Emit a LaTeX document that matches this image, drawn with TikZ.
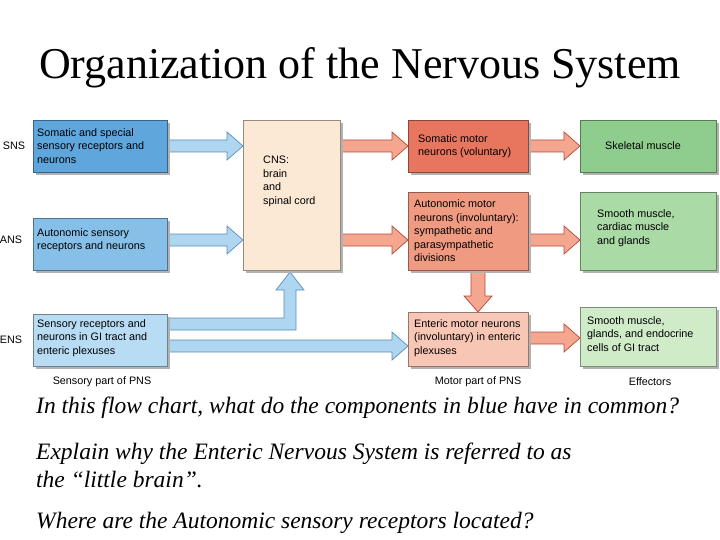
\documentclass[tikz,border=0pt]{standalone}
\usepackage{fontspec}
\setmainfont{Liberation Serif}
\newfontfamily\dsans{Liberation Sans}
\begin{document}
\begin{tikzpicture}[x=1pt,y=-1pt,
  sh/.style={fill=black!30},
  lbl/.style={font=\dsans\fontsize{10.8}{13.5}\selectfont,align=left,inner sep=1pt},
  barr/.style={fill=barf,draw=bard,line width=0.7pt},
  rarr/.style={fill=rarf,draw=rard,line width=0.7pt}]
\useasboundingbox (0,0) rectangle (720,540);
\definecolor{b1}{HTML}{5FA6DD}\definecolor{b2}{HTML}{86BFE8}\definecolor{b3}{HTML}{B8DCF4}
\definecolor{r1}{HTML}{E8765F}\definecolor{r2}{HTML}{F09A82}\definecolor{r3}{HTML}{F8C6B5}
\definecolor{g1}{HTML}{8FCD8E}\definecolor{g2}{HTML}{AADAA5}\definecolor{g3}{HTML}{CFEBC8}
\definecolor{cns}{HTML}{FBE8D5}
\definecolor{barf}{HTML}{AED6F1}\definecolor{bard}{HTML}{5B8DB8}
\definecolor{rarf}{HTML}{F4A68F}\definecolor{rard}{HTML}{B84A3A}
\newcommand{\bx}[6]{% name x1 y1 x2 y2 color
  \fill[sh] (#2+3,#3+3) rectangle (#4+3,#5+3);
  \draw[fill=#6,draw=#6!60!black,line width=0.6pt] (#2,#3) rectangle (#4,#5);
  \coordinate (#1) at (#2,#3);}
\newcommand{\harr}[4]{\draw[#4] (#1,#3-6)--(#2-16,#3-6)--(#2-16,#3-14)--(#2,#3)--(#2-16,#3+14)--(#2-16,#3+6)--(#1,#3+6)--cycle;}
% title
\node[font=\fontsize{44}{46}\selectfont] (title) at (360,68) {Organization of the Nervous System};
% arrows first
\harr{167}{243}{146}{barr}
\harr{167}{243}{240}{barr}
\harr{340}{408}{146}{rarr}
\harr{340}{408}{240}{rarr}
\harr{528}{580}{146}{rarr}
\harr{528}{580}{240}{rarr}
\harr{528}{580}{338}{rarr}
\harr{167}{408}{346}{barr}
\draw[barr] (167,318)--(284,318)--(284,290)--(276,290)--(290,272)--(304,290)--(296,290)--(296,330)--(167,330)--cycle;
\draw[rarr] (471,270)--(471,296)--(464,296)--(478,312)--(492,296)--(485,296)--(485,270);
% boxes
\bx{sns}{33}{120}{167}{172}{b1}
\bx{ans}{33}{218}{167}{270}{b2}
\bx{ens}{33}{314}{167}{366}{b3}
\bx{cnsb}{243}{120}{340}{270}{cns}
\bx{som}{408}{120}{528}{172}{r1}
\bx{aut}{408}{192}{528}{270}{r2}
\bx{ent}{408}{312}{528}{366}{r3}
\bx{sk}{580}{120}{716}{172}{g1}
\bx{sm}{580}{192}{716}{270}{g2}
\bx{gi}{580}{307}{716}{366}{g3}
% texts
\node[lbl,anchor=west] (t1) at (36,146) {Somatic and special\\sensory receptors and\\neurons};
\node[lbl,anchor=west] (t2) at (36,240) {Autonomic sensory\\receptors and neurons};
\node[lbl,anchor=west] (t3) at (36,338) {Sensory receptors and\\neurons in GI tract and\\enteric plexuses};
\node[lbl,anchor=north west] (t4) at (262,155) {CNS:\\brain\\and\\spinal cord};
\node[lbl,anchor=west] (t5) at (417,146) {Somatic motor\\neurons (voluntary)};
\node[lbl,anchor=west] (t6) at (413,231) {Autonomic motor\\neurons (involuntary):\\sympathetic and\\parasympathetic\\divisions};
\node[lbl,anchor=west] (t7) at (413,338) {Enteric motor neurons\\(involuntary) in enteric\\plexuses};
\node[lbl] (t8) at (643,146) {Skeletal muscle};
\node[lbl,anchor=west] (t9) at (596,228) {Smooth muscle,\\cardiac muscle\\and glands};
\node[lbl,anchor=west] (t10) at (586,334) {Smooth muscle,\\glands, and endocrine\\cells of GI tract};
\node[lbl] (l1) at (14,146) {SNS};
\node[lbl] (l2) at (11,240) {ANS};
\node[lbl] (l3) at (11,340) {ENS};
\node[lbl] (b1l) at (102,382) {Sensory part of PNS};
\node[lbl] (b2l) at (478,382) {Motor part of PNS};
\node[lbl] (b3l) at (650,382) {Effectors};
% questions
\begin{scope}[every node/.style={font=\itshape\fontsize{23.5}{28}\selectfont,anchor=west,align=left,inner sep=0pt}]
\node (q1) at (36,408) {In this flow chart, what do the components in blue have in common?};
\node (q2) at (36,465) {Explain why the Enteric Nervous System is referred to as\\the ``little brain''.};
\node (q3) at (36,523) {Where are the Autonomic sensory receptors located?};
\end{scope}
\end{tikzpicture}
\end{document}
